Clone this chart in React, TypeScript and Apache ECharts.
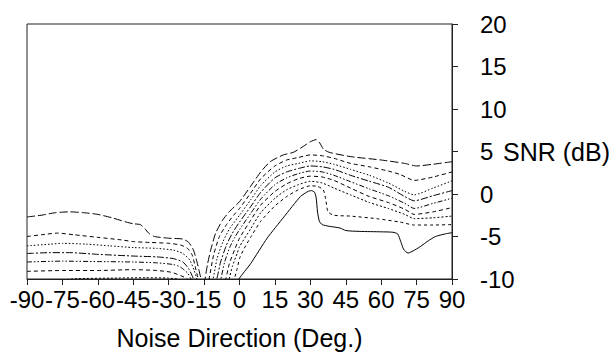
import React, { useEffect, useRef } from "react";
import * as echarts from "echarts";

const xTicks = [-90, 90, 15];
const yTicks = [-10, 20, 5];
const xTitle = "Noise Direction (Deg.)";
const yTitle = "SNR (dB)";

const line1: number[][] = [
  [-90, -2.7], [-84, -2.5], [-78, -2.2], [-72, -2.1], [-66, -2.2], [-60, -2.4], [-54, -2.8], [-48, -3.3], [-45, -3.5],
  [-42, -3.6], [-40, -4.1], [-38.5, -4.6], [-36, -5.0], [-30, -5.2], [-24, -5.3], [-21.5, -5.7], [-19.5, -6.6], [-18, -8.0],
  [-16.8, -9.4], [-16, -10.3], [-15.3, -11], [-14.6, -10], [-13.5, -8.2], [-12.2, -6.6], [-10.1, -4.6], [-7.2, -3.1],
  [-4.4, -2.1], [0, -0.9], [4.7, 0.9], [9, 2.6], [13, 3.8], [18.6, 4.6], [22.8, 4.9], [27, 5.6], [30, 6.15], [32.5, 6.4],
  [34, 6.0], [35.5, 5.3], [38, 4.9], [47, 4.4], [60, 4.0], [70, 3.6], [75, 3.3], [82, 3.5], [90, 3.8],
];
const line2: number[][] = [
  [-90, -5.0], [-84, -4.8], [-77, -4.6], [-70, -4.8], [-60, -5.1], [-50, -5.4], [-45, -5.6], [-38, -5.7], [-30, -5.8],
  [-25, -6.0], [-22, -6.4], [-20, -7.2], [-18.8, -8.5], [-17.5, -10], [-16.5, -11.3], [-14.5, -11.5], [-12.9, -10],
  [-11, -7.2], [-8.5, -5.0], [-5.5, -3.6], [-2.5, -2.5], [0, -1.7], [4.7, 0.1], [9, 1.8], [15, 3.3], [20, 4.0], [25, 4.3],
  [30, 4.6], [35, 4.5], [40, 4.2], [47, 3.6], [55, 3.2], [63, 2.7], [68, 2.3], [74, 1.6], [82, 2.0], [90, 2.6],
];
const line3: number[][] = [
  [-90, -6.1], [-80, -5.9], [-75, -5.8], [-65, -5.9], [-55, -6.1], [-45, -6.3], [-35, -6.4], [-28, -6.6], [-24, -7.0],
  [-21, -7.8], [-19.2, -9], [-18.1, -10], [-17, -11.5], [-13, -11.5], [-11.2, -10], [-9.5, -7.6], [-7, -5.6], [-4, -4.0],
  [0, -2.5], [4.7, -0.7], [9, 1.0], [15, 2.6], [20, 3.3], [25, 3.6], [30, 3.9], [35, 3.8], [40, 3.5], [47, 2.9], [55, 2.2],
  [63, 1.3], [70, 0.3], [74, -0.1], [82, 0.7], [90, 1.55],
];
const line4: number[][] = [
  [-90, -7.0], [-80, -6.9], [-72, -6.9], [-60, -7.1], [-45, -7.3], [-35, -7.4], [-28, -7.6], [-24, -8.0], [-21.5, -8.8],
  [-19.5, -10], [-18, -11.5], [-11, -11.5], [-9.6, -10], [-8, -8], [-5.5, -6.0], [-3, -4.6], [0, -3.3], [4.7, -1.5],
  [9, 0.2], [15, 1.9], [20, 2.6], [25, 3.0], [30, 3.3], [35, 3.2], [40, 2.9], [47, 2.2], [55, 1.5], [63, 0.8], [70, -0.3],
  [74, -0.8], [82, -0.2], [90, 0.4],
];
const line5: number[][] = [
  [-90, -8.0], [-75, -7.9], [-60, -7.95], [-45, -8.0], [-35, -8.1], [-28, -8.3], [-25, -8.6], [-22, -9.3], [-20.6, -10],
  [-19, -11.5], [-9.5, -11.5], [-7.9, -10], [-6.3, -8.0], [-4, -6.2], [-2, -5.1], [0, -4.2], [4.7, -2.3], [9, -0.6],
  [15, 1.1], [20, 1.9], [25, 2.4], [30, 2.7], [35, 2.6], [40, 2.2], [47, 1.45], [55, 0.6], [63, -0.2], [70, -1.1],
  [74, -1.7], [82, -1.1], [90, -0.5],
];
const line6: number[][] = [
  [-90, -9.1], [-75, -9.0], [-60, -9.0], [-45, -8.9], [-35, -9.0], [-29, -9.2], [-25, -9.6], [-22, -10], [-20, -11.5],
  [-7.5, -11.5], [-5.8, -10], [-4.3, -8.2], [-2, -6.5], [0, -5.2], [4.7, -3.1], [9, -1.3], [15, 0.3], [20, 1.2], [25, 1.8],
  [30, 2.1], [35, 2.0], [40, 1.6], [47, 0.7], [55, -0.3], [63, -1.0], [70, -1.8], [74, -2.4], [82, -2.1], [90, -1.6],
];
const line7: number[][] = [
  [-90, -10.3], [-75, -10.1], [-68, -9.95], [-55, -9.9], [-40, -9.85], [-30, -9.9], [-25, -10.1], [-22, -11], [-6, -11.5],
  [-4.4, -10], [-3, -8.5], [-1, -7.0], [0, -6.2], [4.7, -4.1], [9, -2.2], [15, -0.5], [20, 0.5], [25, 1.1], [30, 1.5],
  [35, 1.3], [40, 0.7], [47, -0.1], [55, -1.0], [63, -1.7], [70, -2.4], [74, -2.9], [82, -2.8], [90, -2.6],
];
const line8: number[][] = [
  [-6, -11.5], [-2.3, -10], [-1, -8.8], [0, -7.6], [2, -6.4], [4.7, -5.1], [9, -3.2], [15, -1.4], [20, -0.3], [25, 0.5],
  [30, 0.96], [33, 0.9], [35.5, 0.5], [36.5, -0.6], [37.5, -2.1], [40, -2.5], [47, -2.6], [58, -2.9], [68, -3.3],
  [74, -3.65], [82, -3.65], [90, -3.6],
];
const lineSolid: number[][] = [
  [-1, -10.5], [-0.3, -10], [4.7, -8.2], [11.7, -5.2], [18.8, -2.7], [25.8, -0.3], [29, 0.3], [30.5, 0.4], [31.8, 0.2],
  [32.5, -0.5], [33, -2.0], [33.8, -3.2], [35, -3.6], [38, -3.8], [42.6, -4.0], [45, -4.3], [51, -4.4], [60, -4.45],
  [65, -4.5], [67, -4.7], [68.3, -5.6], [69.5, -6.5], [71.4, -6.95], [73.5, -6.7], [76.5, -6.2], [80, -5.5], [83, -5.0],
  [87, -4.7], [90, -4.55],
];

const curves = [line1, line2, line3, line4, line5, line6, line7, line8, lineSolid];
const dashTypes: any[] = [
  [8, 3],
  [4, 3],
  [1.5, 2],
  [7, 2, 2, 2],
  [5, 2, 1.5, 2, 1.5, 2],
  [4, 3],
  [2, 2],
  [3, 3],
  "solid",
];

const FONT = "Liberation Sans, Arial, sans-serif";

export default function App() {
  const ref = useRef<HTMLDivElement>(null);
  useEffect(() => {
    if (!ref.current) return;
    const chart = echarts.init(ref.current, undefined, { renderer: "svg" });
    chart.setOption({
      animation: false,
      backgroundColor: "#fff",
      grid: {
        left: 27,
        right: 159,
        top: 24,
        bottom: 75,
        show: true,
        borderColor: "#222",
        borderWidth: 1,
        outerBoundsMode: "none",
      },
      xAxis: {
        type: "value",
        min: xTicks[0],
        max: xTicks[1],
        interval: xTicks[2],
        name: xTitle,
        nameLocation: "middle",
        nameGap: 46,
        nameMoveOverlap: false,
        nameTextStyle: { color: "#000", fontSize: 25, fontFamily: FONT },
        axisLine: { show: true, onZero: false, lineStyle: { color: "#222", width: 1 } },
        axisTick: { show: true, inside: false, length: 6, lineStyle: { color: "#222" } },
        axisLabel: { color: "#000", fontSize: 24, fontFamily: FONT, margin: 8 },
        splitLine: { show: false },
      },
      yAxis: {
        type: "value",
        position: "right",
        min: yTicks[0],
        max: yTicks[1],
        interval: yTicks[2],
        name: yTitle,
        nameLocation: "middle",
        nameRotate: 0,
        nameGap: 51,
        nameMoveOverlap: false,
        nameTextStyle: { color: "#000", fontSize: 25, fontFamily: FONT, align: "left" },
        axisLine: { show: true, onZero: false, lineStyle: { color: "#222", width: 1 } },
        axisTick: { show: true, inside: false, length: 6, lineStyle: { color: "#222" } },
        axisLabel: { color: "#000", fontSize: 24, fontFamily: FONT, margin: 28 },
        splitLine: { show: false },
      },
      series: curves.map((d, i) => ({
        type: "line",
        data: d,
        symbol: "none",
        smooth: 0.2,
        clip: true,
        lineStyle: { color: "#000", width: 1, type: dashTypes[i] },
      })),
    });
    return () => chart.dispose();
  }, []);
  return (
    <div
      ref={ref}
      style={{ position: "fixed", left: 0, top: 0, width: 611, height: 354, background: "#fff" }}
    />
  );
}
